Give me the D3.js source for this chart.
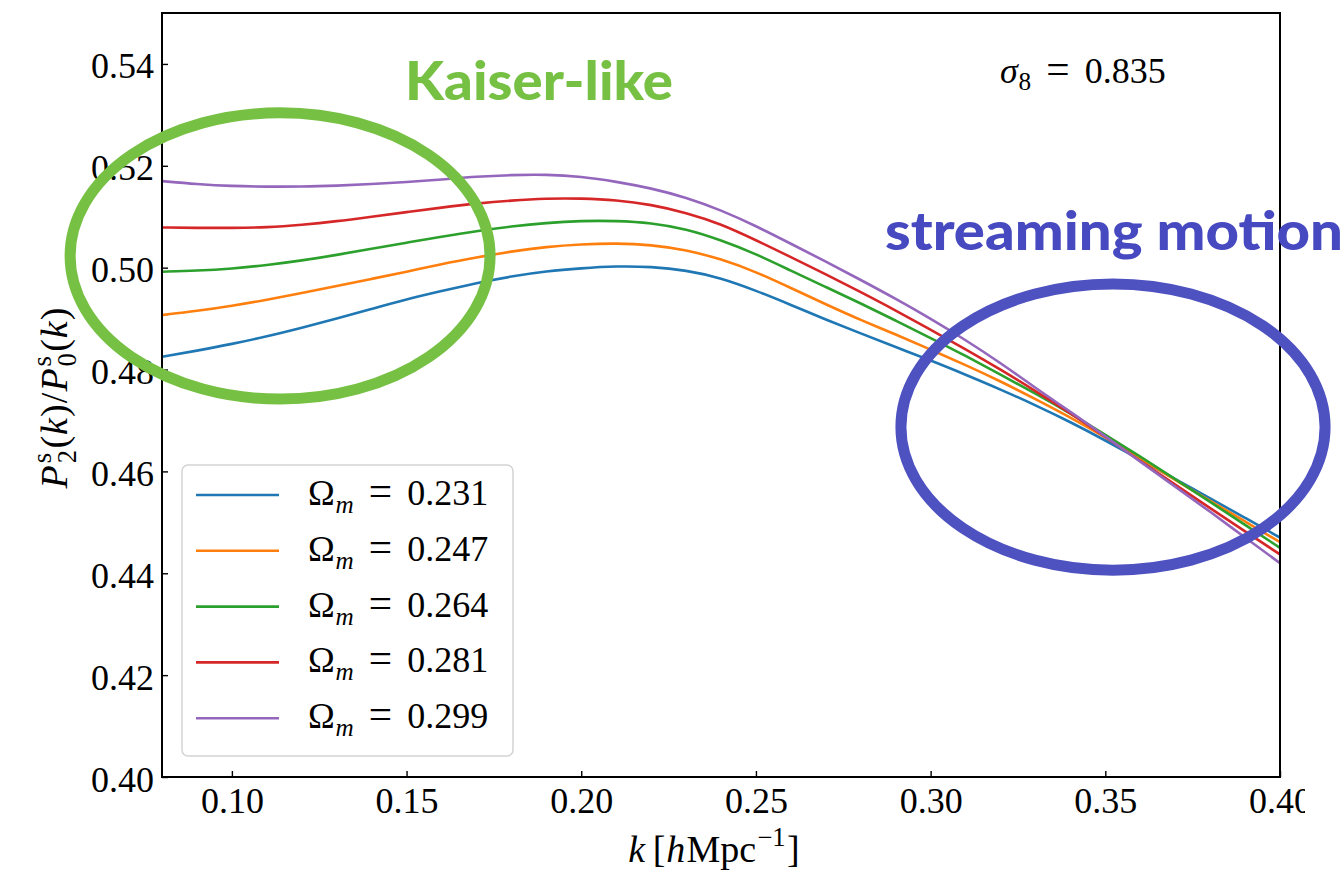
<!DOCTYPE html>
<html>
<head>
<meta charset="utf-8">
<script src="https://cdn.jsdelivr.net/npm/d3@7"></script>
<style>
  html, body { margin: 0; padding: 0; background: #fff; }
  svg { display: block; }
</style>
</head>
<body>
<svg id="chart" width="1344" height="870"></svg>
<script>
// Wavenumber grid k [h/Mpc]
const kGrid = [0.08, 0.09, 0.10, 0.11, 0.12, 0.13, 0.14, 0.15, 0.16, 0.17, 0.18,
               0.19, 0.20, 0.21, 0.22, 0.23, 0.24, 0.25, 0.26, 0.27, 0.28, 0.29,
               0.30, 0.31, 0.32, 0.33, 0.34, 0.35, 0.36, 0.37, 0.38, 0.39, 0.40];

// Quadrupole-to-monopole ratio P2/P0 for each Omega_m (sigma_8 fixed)
const ratioOm0231 = [0.4825, 0.4837, 0.4850, 0.4865, 0.4882, 0.4900, 0.4919, 0.4938, 0.4954, 0.4970, 0.4983,
                     0.4993, 0.4999, 0.5003, 0.5002, 0.4995, 0.4980, 0.4955, 0.4927, 0.4898, 0.4871, 0.4844,
                     0.4818, 0.4790, 0.4761, 0.4730, 0.4697, 0.4661, 0.4623, 0.4585, 0.4547, 0.4509, 0.4470];
const ratioOm0247 = [0.4907, 0.4915, 0.4925, 0.4937, 0.4950, 0.4964, 0.4978, 0.4992, 0.5007, 0.5020, 0.5032,
                     0.5041, 0.5046, 0.5048, 0.5045, 0.5035, 0.5017, 0.4992, 0.4960, 0.4928, 0.4897, 0.4869,
                     0.4839, 0.4809, 0.4777, 0.4742, 0.4706, 0.4667, 0.4626, 0.4583, 0.4542, 0.4502, 0.4461];
const ratioOm0264 = [0.4992, 0.4994, 0.4998, 0.5005, 0.5014, 0.5025, 0.5037, 0.5049, 0.5061, 0.5072, 0.5081,
                     0.5088, 0.5092, 0.5092, 0.5088, 0.5076, 0.5054, 0.5027, 0.4994, 0.4962, 0.4930, 0.4896,
                     0.4862, 0.4827, 0.4790, 0.4753, 0.4714, 0.4672, 0.4629, 0.4585, 0.4540, 0.4495, 0.4450];
const ratioOm0281 = [0.5079, 0.5078, 0.5078, 0.5079, 0.5084, 0.5091, 0.5100, 0.5109, 0.5118, 0.5126, 0.5132,
                     0.5136, 0.5136, 0.5133, 0.5124, 0.5108, 0.5086, 0.5054, 0.5021, 0.4987, 0.4952, 0.4916,
                     0.4878, 0.4840, 0.4800, 0.4758, 0.4714, 0.4668, 0.4620, 0.4574, 0.4528, 0.4482, 0.4437];
const ratioOm0299 = [0.5170, 0.5164, 0.5160, 0.5159, 0.5159, 0.5161, 0.5164, 0.5168, 0.5173, 0.5179, 0.5182,
                     0.5183, 0.5179, 0.5169, 0.5156, 0.5138, 0.5113, 0.5082, 0.5047, 0.5012, 0.4976, 0.4939,
                     0.4900, 0.4858, 0.4813, 0.4764, 0.4717, 0.4669, 0.4619, 0.4570, 0.4521, 0.4470, 0.4420];

const omegaLabels = ["0.231", "0.247", "0.264", "0.281", "0.299"];
const seriesValues = [ratioOm0231, ratioOm0247, ratioOm0264, ratioOm0281, ratioOm0299];
const seriesColors = ["#1f77b4", "#ff7f0e", "#2ca02c", "#d62728", "#9467bd"];

const xTickValues = [0.10, 0.15, 0.20, 0.25, 0.30, 0.35, 0.40];
const yTickValues = [0.40, 0.42, 0.44, 0.46, 0.48, 0.50, 0.52, 0.54];
const sigma8Label = "0.835";

// Highlight regions in data units: centre (k, ratio) and half-widths
const highlightKaiser = { k: 0.1138, r: 0.5023, dk: 0.0601, dr: 0.0281 };
const highlightStream = { k: 0.3522, r: 0.4687, dk: 0.0607, dr: 0.0281 };

const SERIF = "'Liberation Serif', 'Times New Roman', serif";
const SANS = "Lato, 'Open Sans', sans-serif";
const FS = 36;

const svg = d3.select("#chart");
const plot = { left: 162, right: 1280, top: 13, bottom: 777 };

const x = d3.scaleLinear().domain([0.08, 0.40]).range([plot.left, plot.right]);
const y = d3.scaleLinear().domain([0.40, 0.55]).range([plot.bottom, plot.top]);

svg.append("rect").attr("width", 1344).attr("height", 870).attr("fill", "#fff");

// Lay out a run of mixed italic/roman/sub/sup text pieces as separate <text> nodes
function richText(parent, runs, size, fill) {
  const g = parent.append("g");
  let cursor = 0, prevStart = 0, prevW = 0;
  runs.forEach(r => {
    const fs = size * (r.scale || 1);
    const t = g.append("text")
      .attr("font-family", SERIF)
      .attr("font-size", fs)
      .attr("font-style", r.it ? "italic" : "normal")
      .attr("fill", fill || "#000")
      .text(r.t);
    const w = t.node().getComputedTextLength();
    let px;
    if (r.stack) {
      px = prevStart;
      cursor = prevStart + Math.max(prevW, w);
    } else {
      cursor += (r.pre || 0) * size;
      px = cursor;
      cursor += w;
    }
    t.attr("x", px).attr("y", -(r.dy || 0) * size);
    prevStart = px; prevW = w;
  });
  return { g, width: cursor };
}

// Curves
const line = d3.line()
  .x((d, i) => x(kGrid[i]))
  .y(d => y(d))
  .curve(d3.curveBasis);

svg.append("clipPath").attr("id", "plot-clip").append("rect")
  .attr("x", plot.left).attr("y", plot.top)
  .attr("width", plot.right - plot.left).attr("height", plot.bottom - plot.top);

svg.append("g").attr("clip-path", "url(#plot-clip)")
  .selectAll("path").data(seriesValues).join("path")
  .attr("d", d => line(d))
  .attr("fill", "none")
  .attr("stroke", (d, i) => seriesColors[i])
  .attr("stroke-width", 2.6)
  .attr("stroke-linejoin", "round");

// Figure canvas ends just past the plot frame
svg.append("clipPath").attr("id", "canvas-clip").append("rect")
  .attr("x", 0).attr("y", 0).attr("width", 1305).attr("height", 870);

// Axes with inward ticks
const xAxis = d3.axisBottom(x).tickValues(xTickValues).tickSize(-6).tickPadding(0).tickFormat(d3.format(".2f"));
const yAxis = d3.axisLeft(y).tickValues(yTickValues).tickSize(-6).tickPadding(0).tickFormat(d3.format(".2f"));

const gx = svg.append("g").attr("clip-path", "url(#canvas-clip)")
  .append("g").attr("transform", `translate(0,${plot.bottom})`).call(xAxis);
const gy = svg.append("g").attr("transform", `translate(${plot.left},0)`).call(yAxis);
[gx, gy].forEach(g => {
  g.select(".domain").remove();
  g.selectAll(".tick line").attr("stroke", "#000").attr("stroke-width", 1.4);
  g.selectAll(".tick text").attr("font-family", SERIF).attr("font-size", FS).attr("fill", "#000");
});
gx.selectAll(".tick text").attr("y", 36).attr("dy", null);
gy.selectAll(".tick text").attr("x", -8).attr("dy", null).attr("y", 14).attr("text-anchor", "end");

// Frame
svg.append("rect")
  .attr("x", plot.left).attr("y", plot.top)
  .attr("width", plot.right - plot.left).attr("height", plot.bottom - plot.top)
  .attr("fill", "none").attr("stroke", "#000").attr("stroke-width", 2);

// x label: k [h Mpc^-1]
{
  const lab = richText(svg, [
    { t: "k", it: true },
    { t: "[", pre: 0.2 },
    { t: "h", it: true, pre: 0.02 },
    { t: "Mpc", pre: 0.03 },
    { t: "\u22121", scale: 0.7, dy: 0.42, pre: 0.03 },
    { t: "]", pre: 0.04 }
  ], 38);
  lab.g.attr("transform", `translate(${714 - lab.width / 2},862)`);
}

// y label: P2^s(k)/P0^s(k)
{
  const outer = svg.append("g").attr("transform", "translate(67,398) rotate(-90)");
  const lab = richText(outer, [
    { t: "P", it: true },
    { t: "s", scale: 0.7, dy: 0.42, pre: 0.05 },
    { t: "2", scale: 0.7, dy: -0.24, stack: true },
    { t: "(", pre: 0.04 },
    { t: "k", it: true, pre: 0.02 },
    { t: ")", pre: 0.03 },
    { t: "/", pre: 0.03 },
    { t: "P", it: true, pre: 0.03 },
    { t: "s", scale: 0.7, dy: 0.42, pre: 0.05 },
    { t: "0", scale: 0.7, dy: -0.24, stack: true },
    { t: "(", pre: 0.04 },
    { t: "k", it: true, pre: 0.02 },
    { t: ")", pre: 0.03 }
  ], 38);
  lab.g.attr("transform", `translate(${-lab.width / 2},0)`);
}

// sigma_8 annotation
{
  const lab = richText(svg, [
    { t: "\u03c3", it: true },
    { t: "8", scale: 0.7, dy: -0.2, pre: 0.02 },
    { t: "=", pre: 0.42, scale: 1.15 },
    { t: sigma8Label, pre: 0.42 }
  ], FS);
  lab.g.attr("transform", "translate(1000,83)");
}

// Legend
{
  const lg = svg.append("g");
  lg.append("rect")
    .attr("x", 182).attr("y", 465).attr("width", 331).attr("height", 291)
    .attr("rx", 6).attr("fill", "#fff").attr("fill-opacity", 0.8)
    .attr("stroke", "#d3d3d3").attr("stroke-width", 1.5);
  omegaLabels.forEach((lbl, i) => {
    const yy = 495 + i * 55.8;
    lg.append("line")
      .attr("x1", 196).attr("x2", 279).attr("y1", yy).attr("y2", yy)
      .attr("stroke", seriesColors[i]).attr("stroke-width", 2.6);
    const t = richText(lg, [
      { t: "\u03a9" },
      { t: "m", it: true, scale: 0.7, dy: -0.22, pre: 0.02 },
      { t: "=", pre: 0.42, scale: 1.15 },
      { t: lbl, pre: 0.42 }
    ], FS);
    t.g.attr("transform", `translate(308,${yy + 10})`);
  });
}

// Highlight ellipses
function ring(h, color) {
  svg.append("ellipse")
    .attr("cx", x(h.k)).attr("cy", y(h.r))
    .attr("rx", x(h.k + h.dk) - x(h.k))
    .attr("ry", y(h.r) - y(h.r + h.dr))
    .attr("fill", "none").attr("stroke", color).attr("stroke-width", 11);
}
ring(highlightKaiser, "#76c043");
ring(highlightStream, "#4e51c0");

// Region captions
svg.append("text")
  .attr("x", 405).attr("y", 100)
  .attr("font-family", SANS).attr("font-weight", 900).attr("font-size", 53)
  .attr("fill", "#76c043")
  .attr("textLength", 268).attr("lengthAdjust", "spacingAndGlyphs")
  .text("Kaiser-like");
svg.append("text")
  .attr("x", 885).attr("y", 250)
  .attr("font-family", SANS).attr("font-weight", 900).attr("font-size", 53)
  .attr("fill", "#4649c0")
  .attr("textLength", 458).attr("lengthAdjust", "spacingAndGlyphs")
  .text("streaming motion");
</script>
</body>
</html>
